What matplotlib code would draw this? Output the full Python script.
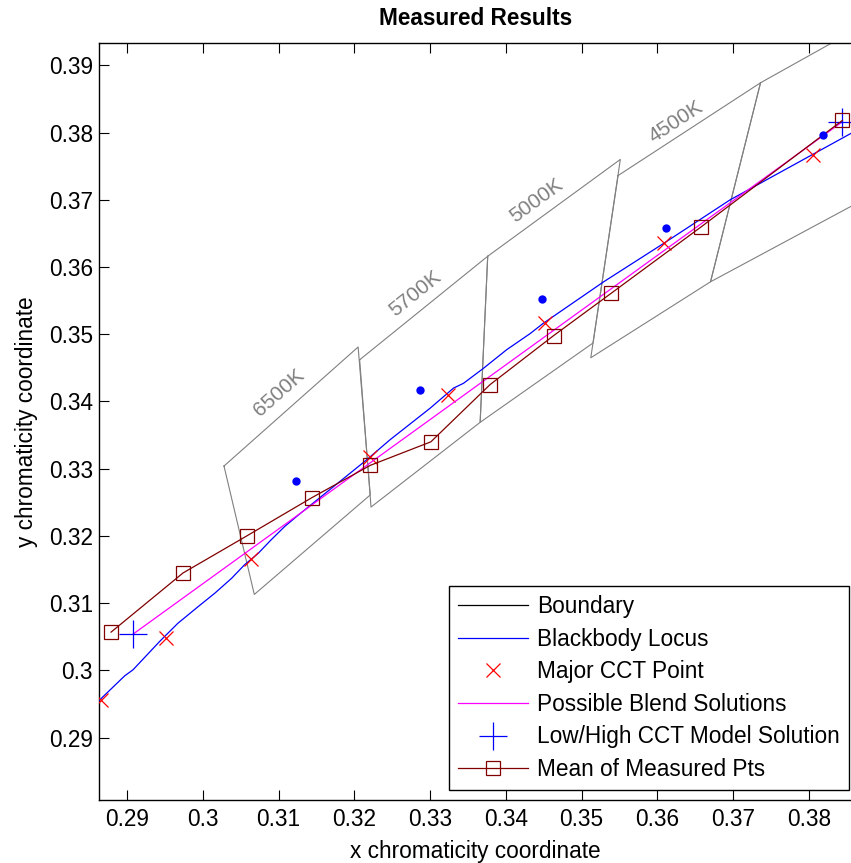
import numpy as np
import matplotlib
matplotlib.use('Agg')
import matplotlib.pyplot as plt
from matplotlib.lines import Line2D

plt.rcParams['font.family'] = ['Liberation Sans', 'DejaVu Sans']

# ---------------- data ----------------
# ANSI quadrangles (x, y vertices)
quad_names = ['6500K', '5700K', '5000K', '4500K', '4000K']
quad_x = [
    [0.3028, 0.3205, 0.3221, 0.3068],
    [0.3207, 0.3376, 0.3366, 0.3222],
    [0.3376, 0.3551, 0.3515, 0.3366],
    [0.3548, 0.3736, 0.3670, 0.3512],
    [0.3736, 0.4006, 0.3898, 0.3670],
]
quad_y = [
    [0.3304, 0.3481, 0.3261, 0.3113],
    [0.3462, 0.3616, 0.3369, 0.3243],
    [0.3616, 0.3760, 0.3487, 0.3369],
    [0.3736, 0.3874, 0.3578, 0.3465],
    [0.3874, 0.4044, 0.3716, 0.3578],
]
# quadrangle centres
center_x = [0.3123, 0.3287, 0.3447, 0.3611, 0.3818]
center_y = [0.3282, 0.3417, 0.3553, 0.3658, 0.3797]
# label positions (label text centres)
label_text = ['6500K', '5700K', '5000K', '4500K']
label_x = [0.3101, 0.3280, 0.3441, 0.3624]
label_y = [0.3413, 0.3560, 0.3699, 0.3816]

# blackbody locus
bb_x = [0.2862, 0.2897, 0.2908, 0.2943, 0.2967, 0.2994, 0.3016, 0.3038, 0.3055,
        0.3073, 0.3090, 0.3108, 0.3126, 0.3216, 0.3247, 0.3300, 0.3331, 0.3344,
        0.3370, 0.3401, 0.3432, 0.3449, 0.3529, 0.3608, 0.3696, 0.3880]
bb_y = [0.2954, 0.2992, 0.3001, 0.3043, 0.3070, 0.3095, 0.3115, 0.3137, 0.3157,
        0.3174, 0.3194, 0.3214, 0.3231, 0.3313, 0.3343, 0.3390, 0.3420, 0.3427,
        0.3449, 0.3477, 0.3501, 0.3516, 0.3578, 0.3635, 0.3700, 0.3814]

# major CCT points
cct_x = [0.2866, 0.2952, 0.3064, 0.3221, 0.3324, 0.3451, 0.3608, 0.3805]
cct_y = [0.2956, 0.3048, 0.3166, 0.3318, 0.3410, 0.3516, 0.3636, 0.3766]

# possible blend solutions
blend_x = [0.2908, 0.3844]
blend_y = [0.3054, 0.3816]

# low/high CCT model solution
model_x = [0.2908, 0.3844]
model_y = [0.3054, 0.3816]

# mean of measured points
mean_x = [0.2879, 0.2974, 0.3058, 0.3144, 0.3221, 0.3301, 0.3379, 0.3463,
          0.3539, 0.3658, 0.3844]
mean_y = [0.3057, 0.3145, 0.3200, 0.3257, 0.3305, 0.3340, 0.3425, 0.3498,
          0.3561, 0.3660, 0.3818]

xticks = [0.29, 0.30, 0.31, 0.32, 0.33, 0.34, 0.35, 0.36, 0.37, 0.38]
xtick_labels = ['0.29', '0.3', '0.31', '0.32', '0.33', '0.34', '0.35', '0.36', '0.37', '0.38']
yticks = [0.29, 0.30, 0.31, 0.32, 0.33, 0.34, 0.35, 0.36, 0.37, 0.38, 0.39]
ytick_labels = ['0.29', '0.3', '0.31', '0.32', '0.33', '0.34', '0.35', '0.36', '0.37', '0.38', '0.39']

# ---------------- figure ----------------
W, H = 851, 863
fig = plt.figure(figsize=(W / 100, H / 100), dpi=100)
ax = fig.add_axes([98.5 / W, (H - 800) / H, (852 - 98.5) / W, (800 - 42.7) / H])
ax.set_xlim(0.28624, 0.38567)
ax.set_ylim(0.28073, 0.39336)

GRAY = '#808080'
BROWN = '#800000'
FS = 16.3

for qx, qy in zip(quad_x, quad_y):
    ax.plot(qx + [qx[0]], qy + [qy[0]], color=GRAY, lw=0.8, zorder=1)

# labels rotated along the top edge of each quadrangle
for i, txt in enumerate(label_text):
    p1 = ax.transData.transform((quad_x[i][0], quad_y[i][0]))
    p2 = ax.transData.transform((quad_x[i][1], quad_y[i][1]))
    ang = np.degrees(np.arctan2(p2[1] - p1[1], p2[0] - p1[0]))
    ax.text(label_x[i], label_y[i], txt, color=GRAY, fontsize=15,
            rotation=ang, rotation_mode='anchor', ha='center', va='center', zorder=2)

ax.plot(bb_x, bb_y, color='#0000FF', lw=0.9, zorder=3)
ax.plot(cct_x, cct_y, ls='none', marker='x', ms=10, mew=0.9, color='#FF0000', zorder=4)
ax.plot(blend_x, blend_y, color='#FF00FF', lw=0.9, zorder=5)
ax.plot(model_x, model_y, ls='none', marker='+', ms=20, mew=0.9, color='#0000FF', zorder=6)
ax.plot(mean_x, mean_y, color=BROWN, lw=0.9, marker='s', ms=10.5, mfc='none',
        mec=BROWN, mew=0.9, zorder=7)
ax.plot(center_x, center_y, ls='none', marker='o', ms=6, color='#0000FF', mec='none', zorder=8)

ax.set_xticks(xticks)
ax.set_xticklabels(xtick_labels)
ax.set_yticks(yticks)
ax.set_yticklabels(ytick_labels)
ax.tick_params(direction='in', top=True, right=False, length=7, width=0.8,
               labelsize=FS, colors='black')
ax.tick_params(axis='x', pad=6)
ax.tick_params(axis='y', pad=4)
for s in ax.spines.values():
    s.set_linewidth(1.0)
ax.spines['right'].set_visible(False)

ax.set_title('Measured Results', fontsize=FS, fontweight='bold', pad=13)
ax.set_xlabel('x chromaticity coordinate', fontsize=FS, labelpad=6)
ax.set_ylabel('y chromaticity coordinate', fontsize=FS, labelpad=8)

handles = [
    Line2D([], [], color='black', lw=0.9),
    Line2D([], [], color='#0000FF', lw=0.9),
    Line2D([], [], ls='none', marker='x', ms=10, mew=0.9, color='#FF0000'),
    Line2D([], [], color='#FF00FF', lw=0.9),
    Line2D([], [], ls='none', marker='+', ms=20, mew=0.9, color='#0000FF'),
    Line2D([], [], color=BROWN, lw=0.9, marker='s', ms=10.5, mfc='none', mec=BROWN, mew=0.9),
]
labels = ['Boundary', 'Blackbody Locus', 'Major CCT Point', 'Possible Blend Solutions',
          'Low/High CCT Model Solution', 'Mean of Measured Pts']
bx = (849 - 98.5) / (852 - 98.5)
by = (800 - 790) / (800 - 42.7)
leg = ax.legend(handles, labels, loc='lower right', bbox_to_anchor=(bx, by),
                borderaxespad=0, fontsize=FS, handlelength=3.1, handletextpad=0.4,
                labelspacing=0.42, borderpad=0.4, fancybox=False, framealpha=1,
                edgecolor='black', numpoints=1)
leg.get_frame().set_linewidth(1.0)
leg.set_zorder(20)

fig.savefig('out.png', dpi=100)
